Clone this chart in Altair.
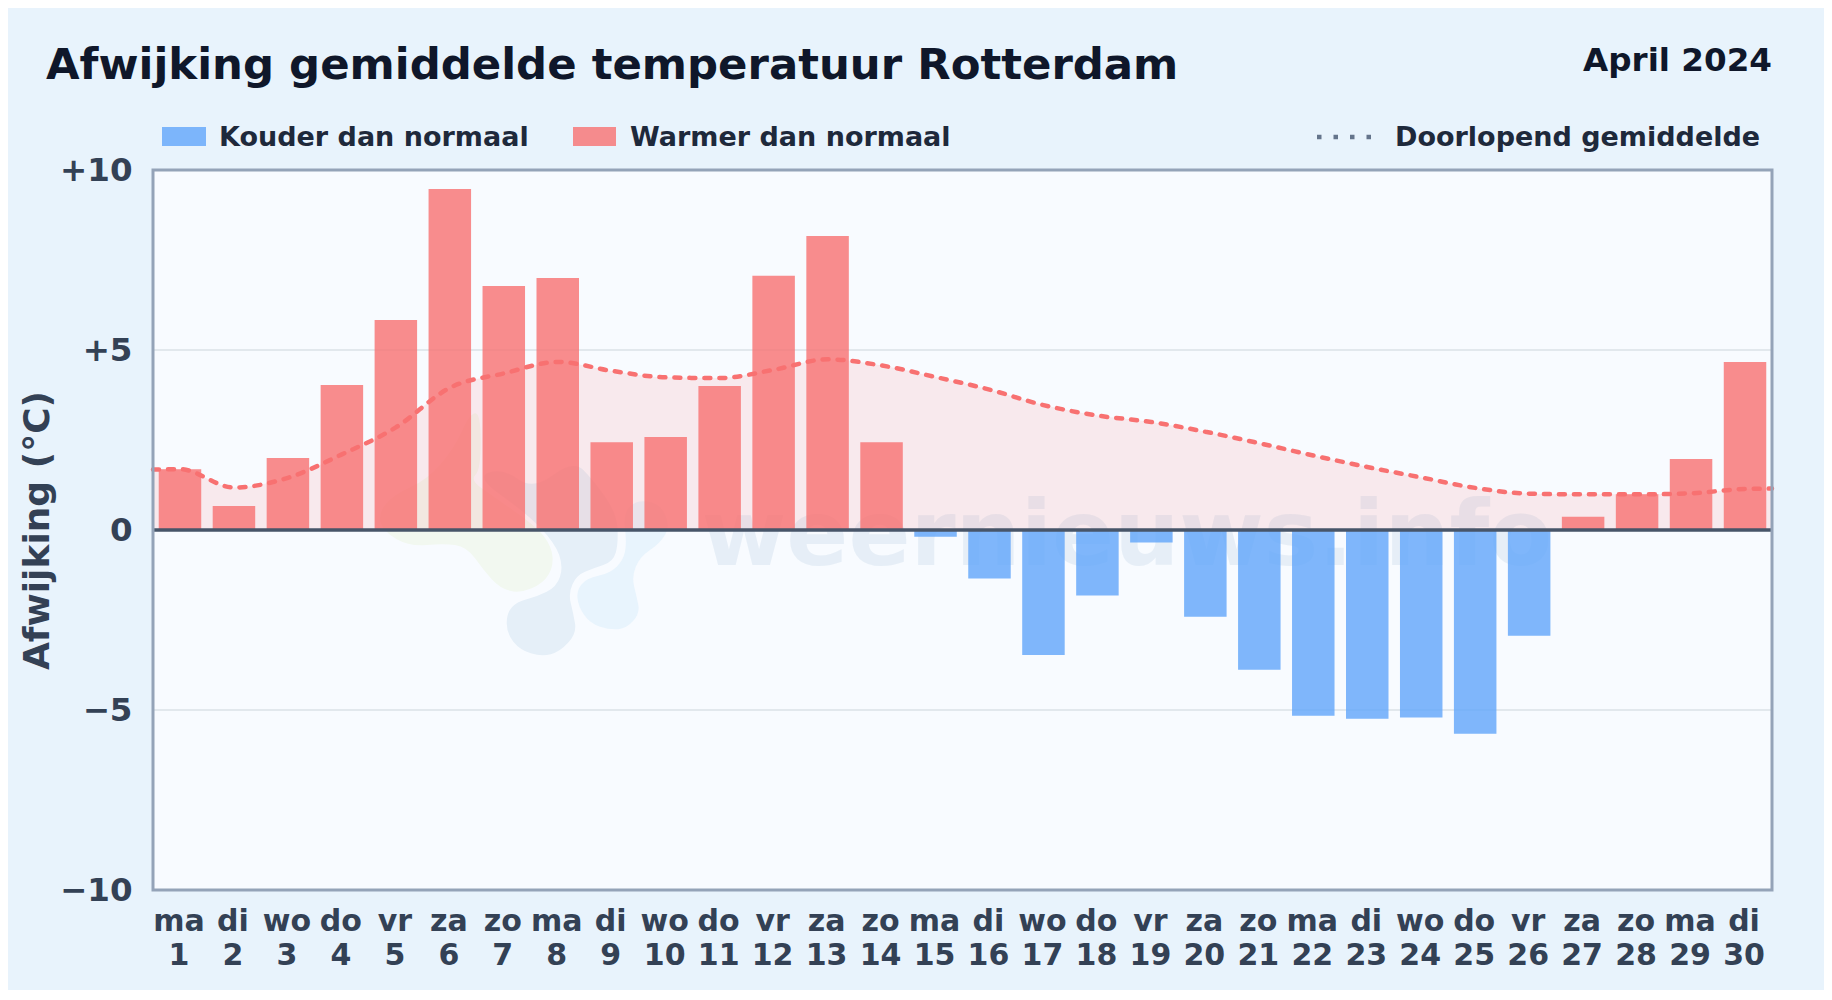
import altair as alt
import pandas as pd

days = list(range(1, 31))
weekdays = ["ma","di","wo","do","vr","za","zo","ma","di","wo","do","vr","za","zo","ma",
            "di","wo","do","vr","za","zo","ma","di","wo","do","vr","za","zo","ma","di"]
deviation = [1.69,0.67,2.0,4.03,5.83,9.47,6.78,7.0,2.44,2.58,4.0,7.06,8.17,2.44,-0.19,
             -1.35,-3.47,-1.82,-0.35,-2.41,-3.88,-5.16,-5.24,-5.21,-5.66,-2.94,0.37,0.99,1.97,4.67]
line_x = [0.5] + days + [30.5]
running = [1.68,1.69,1.18,1.45,2.1,2.85,3.95,4.35,4.67,4.42,4.24,4.22,4.45,4.74,4.57,4.25,
           3.9,3.47,3.18,3.0,2.73,2.41,2.07,1.75,1.46,1.17,1.01,0.99,0.99,1.02,1.14,1.15]
title = "Afwijking gemiddelde temperatuur Rotterdam"
subtitle = "April 2024"
legend_cold = "Kouder dan normaal"
legend_warm = "Warmer dan normaal"
legend_line = "Doorlopend gemiddelde"
watermark = "weernieuws.info"
y_ticks = [-10, -5, 0, 5, 10]

BG = "#e8f3fc"
PLOT = "#f8fbff"
BLUE = "#60a5fa"
RED = "#f87171"
FONT = "DejaVu Sans"

bars = pd.DataFrame({"day": days, "wd": weekdays, "v": deviation})
line = pd.DataFrame({"day": line_x, "avg": running})
ticks = pd.DataFrame({"day": days, "wd": weekdays})

xs = alt.Scale(domain=[0.5, 30.5], nice=False, zero=False, padding=0)
ys = alt.Scale(domain=[-10, 10], nice=False)
X = alt.X("day:Q", scale=xs, axis=None)

# Faint logo outlines of the watermark, as symbol shapes (style, not data)
logo_green = [(70,455),(55,400),(100,345),(200,300),(280,210),(330,100),(362,100),(362,270),(330,300),(400,350),(530,440),(575,500),(580,560),(550,610),(480,640),(420,625),(370,570),(320,500),(250,490),(150,500)]
logo_blue = [(345,290),(430,265),(520,330),(640,240),(700,300),(770,400),(775,490),(760,545),(700,565),(650,585),(625,640),(640,700),(650,760),(600,815),(545,830),(480,810),(440,760),(440,700),(470,665),(530,650),(590,620),(610,560),(585,490),(500,400)]
logo_light = [(790,400),(830,360),(900,370),(930,440),(900,490),(840,530),(815,590),(830,650),(840,700),(800,745),(750,750),(690,730),(655,680),(650,630),(680,595),(750,580),(790,540),(800,490)]

def blob(pts):
    p = [(360 + a / 3 - 153, 380 + b / 3 - 170) for a, b in pts]
    n = len(p)
    mid = lambda i: ((p[i][0] + p[(i + 1) % n][0]) / 2, (p[i][1] + p[(i + 1) % n][1]) / 2)
    m0 = mid(n - 1)
    s = f"M{m0[0]:.1f},{m0[1]:.1f}"
    for i in range(n):
        m = mid(i)
        s += f"Q{p[i][0]:.1f},{p[i][1]:.1f} {m[0]:.1f},{m[1]:.1f}"
    return s + "Z"

def logo(pts, color):
    return alt.Chart(pd.DataFrame({"a": [1]})).mark_point(
        shape=blob(pts), size=4, filled=True, color=color, opacity=1, strokeWidth=0
    ).encode(x=alt.value(0), y=alt.value(0))

grid = alt.Chart(pd.DataFrame({"y": [-5, 5]})).mark_rule(color="#e2e8ed", strokeWidth=2).encode(
    y=alt.Y("y:Q", scale=ys))
wm = alt.Chart(pd.DataFrame({"t": [watermark]})).mark_text(
    font=FONT, fontSize=91.5, fontWeight="bold", color="#dbe7f3", opacity=0.6, align="center", baseline="alphabetic"
).encode(text="t:N", x=alt.value(1127 - 153), y=alt.value(565 - 170))
area = alt.Chart(line).mark_area(color=RED, opacity=0.13, interpolate="monotone").encode(
    x=X, y=alt.Y("avg:Q", scale=ys), y2=alt.datum(0))
bar_cold = alt.Chart(bars).transform_filter("datum.v < 0").mark_bar(color=BLUE, opacity=0.8, size=42.5).encode(
    x=X, y=alt.Y("v:Q", scale=ys, axis=alt.Axis(
        values=y_ticks, labelExpr="datum.value > 0 ? '+' + datum.value : datum.value == 0 ? '0' : '−' + abs(datum.value)",
        title="Afwijking (°C)", titleFont=FONT, titleFontSize=36, titleFontWeight="bold", titleColor="#334155",
        titlePadding=3, labelFont=FONT, labelFontSize=32.5, labelFontWeight="bold", labelColor="#334155",
        labelPadding=21, ticks=False, domain=False, grid=False)), y2=alt.datum(0))
bar_warm = alt.Chart(bars).transform_filter("datum.v >= 0").mark_bar(color=RED, opacity=0.8, size=42.5).encode(
    x=X, y=alt.Y("v:Q", scale=ys), y2=alt.datum(0))
avg = alt.Chart(line).mark_line(color=RED, strokeWidth=4.5, strokeDash=[6, 9], strokeCap="round", interpolate="monotone").encode(
    x=X, y=alt.Y("avg:Q", scale=ys))
zero = alt.Chart(pd.DataFrame({"y": [0]})).mark_rule(color="#475569", strokeWidth=3.5).encode(y=alt.Y("y:Q", scale=ys))
frame = alt.Chart(pd.DataFrame({"a": [1]})).mark_rect(fill=None, stroke="#94a3b8", strokeWidth=3).encode(
    x=alt.value(0), x2=alt.value(1619), y=alt.value(0), y2=alt.value(720))
tick_wd = alt.Chart(ticks).mark_text(font=FONT, fontSize=30, fontWeight="bold", color="#334155", baseline="middle", dx=-1).encode(
    x=X, y=alt.value(752), text="wd:N")
tick_d = alt.Chart(ticks).mark_text(font=FONT, fontSize=30, fontWeight="bold", color="#334155", baseline="middle", dx=-1).encode(
    x=X, y=alt.value(786), text="day:Q")

def label(t, px, py, size, color, align="left"):
    return alt.Chart(pd.DataFrame({"t": [t]})).mark_text(
        font=FONT, fontSize=size, fontWeight="bold", color=color, align=align, baseline="middle"
    ).encode(text="t:N", x=alt.value(px - 153), y=alt.value(py - 170))

def swatch(x0, x1, color):
    return alt.Chart(pd.DataFrame({"a": [1]})).mark_rect(color=color, opacity=0.8).encode(
        x=alt.value(x0 - 153), x2=alt.value(x1 - 153), y=alt.value(127 - 170), y2=alt.value(146 - 170))

leg_dots = alt.Chart(pd.DataFrame({"a": [1]})).mark_rule(
    color="#64748b", strokeWidth=4.5, strokeDash=[4.5, 12]).encode(
    x=alt.value(1317 - 153), x2=alt.value(1378 - 153), y=alt.value(137 - 170))

chart = alt.layer(
    grid, logo(logo_green, "#f2f8f0"), logo(logo_blue, "#e5eff8"), logo(logo_light, "#e8f4fd"),
    wm, area, bar_cold, bar_warm, avg, zero, frame, tick_wd, tick_d,
    label(title, 46, 66, 43.4, "#0f172a"),
    label(subtitle, 1772, 61, 32.6, "#0f172a", "right"),
    swatch(162, 206, BLUE), label(legend_cold, 219, 138, 27, "#1e293b"),
    swatch(573, 616, RED), label(legend_warm, 630, 138, 27, "#1e293b"),
    leg_dots, label(legend_line, 1395, 138, 27, "#1e293b", "left"),
).properties(
    width=1619, height=720, background=BG,
    padding={"left": 145, "top": 162, "right": 52, "bottom": 100},
    autosize=alt.AutoSizeParams(type="none"),
).configure_view(fill=PLOT, stroke=None)

chart.save("out.html", embed_options={"renderer": "svg", "actions": False})
